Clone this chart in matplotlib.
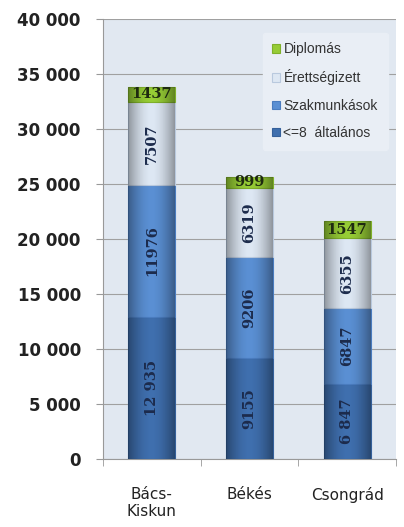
import matplotlib
matplotlib.use("Agg")
import matplotlib.pyplot as plt
import numpy as np
from matplotlib.ticker import FuncFormatter, FixedLocator

categories = ["Bács-\nKiskun", "Békés", "Csongrád"]
series_names = ["<=8  általános", "Szakmunkások", "Érettségizett", "Diplomás"]
alt = [12935, 9155, 6847]
szak = [11976, 9206, 6847]
erett = [7507, 6319, 6355]
dipl = [1437, 999, 1547]
alt_labels = ["12 935", "9155", "6 847"]
szak_labels = ["11976", "9206", "6847"]
erett_labels = ["7507", "6319", "6355"]
dipl_labels = ["1437", "999", "1547"]
yticks = [0, 5000, 10000, 15000, 20000, 25000, 30000, 35000, 40000]

colors = ["#3f6fae", "#5a8fd3", "#dde7f3", "#96cc35"]
edge = ["#35609a", "#4a7cbf", "#b9c9de", "#7fb02a"]

fig = plt.figure(figsize=(4.04, 5.27), dpi=100)
ax = fig.add_axes([0.255, 0.129, 0.725, 0.835])
ax.set_facecolor("#e1e8f1")

x = np.arange(len(categories))
w = 0.48
bottoms = np.zeros(3)
all_vals = [alt, szak, erett, dipl]
all_labels = [alt_labels, szak_labels, erett_labels, dipl_labels]
for i, (vals, name) in enumerate(zip(all_vals, series_names)):
    bars = ax.bar(x, vals, w, bottom=bottoms, color=colors[i], edgecolor=edge[i],
                  linewidth=0.8, label=name, zorder=3)
    for b in bars:
        grad = np.linspace(0, 1, 64)
        shade = 0.35 * (1 - np.sin(grad * np.pi))
        img = np.zeros((1, 64, 4))
        img[..., 3] = shade
        im = ax.imshow(img, extent=[b.get_x(), b.get_x() + b.get_width(),
                                    b.get_y(), b.get_y() + b.get_height()],
                       aspect="auto", zorder=4, interpolation="bilinear")
        im.set_clip_path(b)
    for j, b in enumerate(bars):
        rot = 90 if i < 3 else 0
        col = "#1c2b4c" if i < 3 else "#1e2a10"
        ax.text(b.get_x() + b.get_width() / 2, b.get_y() + b.get_height() / 2,
                all_labels[i][j], rotation=rot, ha="center", va="center",
                fontsize=10.5, fontweight="bold", color=col,
                family="DejaVu Serif", zorder=6)
    bottoms = bottoms + np.array(vals)

ax.set_xlim(-0.5, 2.5)
ax.set_ylim(0, 40000)
ax.set_yticks(yticks)
ax.yaxis.set_major_formatter(FuncFormatter(lambda v, p: f"{int(v):,}".replace(",", " ")))
ax.set_xticks(x)
ax.set_xticklabels(categories, fontsize=11, color="#222222")
ax.xaxis.set_minor_locator(FixedLocator([-0.5, 0.5, 1.5, 2.5]))
ax.tick_params(axis="x", which="major", length=0, pad=20)
ax.tick_params(axis="x", which="minor", length=5, color="#999999")
ax.tick_params(axis="y", length=5, color="#999999", labelsize=12, pad=11)
for lab in ax.get_yticklabels():
    lab.set_fontweight("bold")
    lab.set_color("#222222")
ax.grid(axis="y", color="#a0a0a0", linewidth=0.8, zorder=1)
ax.set_axisbelow(True)
for s in ["top", "right"]:
    ax.spines[s].set_visible(False)
for s in ["left", "bottom"]:
    ax.spines[s].set_color("#999999")

handles, labels = ax.get_legend_handles_labels()
leg = ax.legend(handles[::-1], labels[::-1], loc="upper right",
                bbox_to_anchor=(0.995, 0.985), frameon=True,
                handlelength=0.55, handleheight=0.55, handletextpad=0.25,
                labelspacing=0.95, borderpad=0.7,
                prop={"family": "Liberation Sans", "size": 10})
for t in leg.get_texts():
    t.set_color("#333333")
leg.get_frame().set_facecolor("#e9eef5")
leg.get_frame().set_edgecolor("#e9eef5")
leg.get_frame().set_alpha(1)
leg.set_zorder(10)

fig.savefig("out.png", dpi=100)
